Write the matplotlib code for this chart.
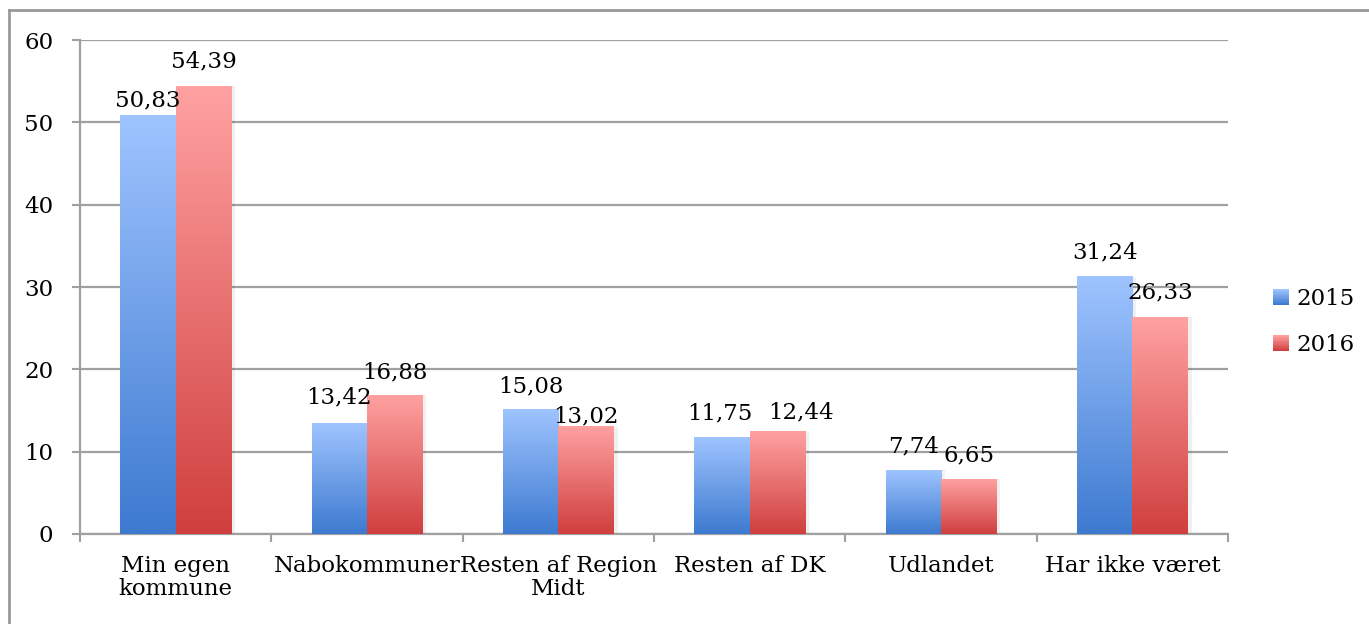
import numpy as np
import matplotlib
matplotlib.use("Agg")
import matplotlib.pyplot as plt
from matplotlib.colors import LinearSegmentedColormap
from matplotlib.lines import Line2D
from matplotlib.patches import Patch, Rectangle
from matplotlib.legend_handler import HandlerBase

# data
kategorier = ["Min egen\nkommune", "Nabokommuner", "Resten af Region\nMidt",
              "Resten af DK", "Udlandet", "Har ikke været"]
vaerdier_2015 = [50.83, 13.42, 15.08, 11.75, 7.74, 31.24]
vaerdier_2016 = [54.39, 16.88, 13.02, 12.44, 6.65, 26.33]
aar = ["2015", "2016"]

# label placement as in the original (px): gap above bar, sideways shift
gap_2015 = [9, 20, 17, 18, 18, 18]
gap_2016 = [19, 17, 4, 13, 18, 19]
dx_2015 = [0, 0, 0, -2, 0, 0]
dx_2016 = [0, 0, 0, 24, 0, 0]

plt.rcParams['font.family'] = ['DejaVu Serif', 'DejaVu Sans']
FS = 16.5

# gradient colours (bottom -> top)
blaa = LinearSegmentedColormap.from_list("blaa", ["#3d7ad0", "#9fc4ff"])
roed = LinearSegmentedColormap.from_list("roed", ["#cf3f3e", "#ffa1a1"])


def gradient_bars(ax, bars, cmap):
    grad = np.linspace(0, 1, 256).reshape(-1, 1)
    for b in bars:
        x0 = b.get_x()
        w = b.get_width()
        h = b.get_height()
        # faint shadow on the right side
        ax.fill_between([x0 + w, x0 + w + 0.02], 0, h, color="#000000",
                        alpha=0.06, lw=0, zorder=2)
        ax.imshow(grad, cmap=cmap, origin="lower", aspect="auto",
                  extent=[x0, x0 + w, 0, h], zorder=3, interpolation="bilinear")
        b.set_visible(False)


class GradHandler(HandlerBase):
    def __init__(self, cmap):
        super().__init__()
        self.cmap = cmap

    def create_artists(self, legend, orig, xd, yd, width, height, fontsize, trans):
        n = 20
        s = min(width, height)
        out = []
        for i in range(n):
            out.append(Rectangle((0, -yd + i * s / n), s, s / n + 0.2,
                                 facecolor=self.cmap(i / (n - 1)), lw=0,
                                 transform=trans))
        return out


def fmt(v):
    return f"{v:.2f}".replace(".", ",")


fig = plt.figure(figsize=(13.69, 6.24), dpi=100)
ax = fig.add_axes([80 / 1369, 90 / 624, (1228 - 80) / 1369, (534 - 40) / 624])

x = np.arange(len(kategorier))
bw = 0.29
b1 = ax.bar(x - bw / 2, vaerdier_2015, bw)
b2 = ax.bar(x + bw / 2, vaerdier_2016, bw)
gradient_bars(ax, b1, blaa)
gradient_bars(ax, b2, roed)

for bars, vals, gaps, dxs in [(b1, vaerdier_2015, gap_2015, dx_2015),
                              (b2, vaerdier_2016, gap_2016, dx_2016)]:
    for b, v, g, d in zip(bars, vals, gaps, dxs):
        ax.annotate(fmt(v), (b.get_x() + b.get_width() / 2, v),
                    xytext=(d * 0.72, g * 0.72), textcoords="offset points",
                    ha="center", va="baseline", fontsize=FS, zorder=5)

ax.set_xlim(-0.5, len(kategorier) - 0.5)
ax.set_ylim(0, 60)
ax.set_yticks(range(0, 61, 10))
ax.yaxis.grid(True, color="#a0a0a0", lw=1.6, zorder=0)
ax.set_axisbelow(True)

ax.set_xticks(x)
ax.set_xticklabels(kategorier, fontsize=FS, linespacing=1.05)
ax.set_xticks(np.arange(-0.5, len(kategorier)), minor=True)
ax.tick_params(axis="x", which="major", length=0, pad=15)
ax.tick_params(axis="x", which="minor", length=5.8, width=1.5, color="#a0a0a0")
ax.tick_params(axis="y", length=5.8, width=1.5, color="#a0a0a0", pad=13.5,
               labelsize=FS)

for s in ["top", "right"]:
    ax.spines[s].set_visible(False)
for s in ["left", "bottom"]:
    ax.spines[s].set_color("#a0a0a0")
    ax.spines[s].set_linewidth(1.6)

handles = [Patch(color="#6d9ee8"), Patch(color="#e87070")]
fig.legend(handles, aar, loc="center left", bbox_to_anchor=(1252 / 1369, 1 - 322 / 624),
           frameon=False, fontsize=FS, handlelength=0.7, handleheight=0.7,
           handletextpad=0.35, labelspacing=1.05,
           handler_map={handles[0]: GradHandler(blaa), handles[1]: GradHandler(roed)})

# outer chart border
fig.add_artist(Line2D([9 / 1369, 9 / 1369], [0, 1 - 10 / 624],
                      transform=fig.transFigure, color="#999999", lw=2))
fig.add_artist(Line2D([9 / 1369, 1], [1 - 10 / 624, 1 - 10 / 624],
                      transform=fig.transFigure, color="#999999", lw=2))

fig.savefig("out.png", dpi=100)
